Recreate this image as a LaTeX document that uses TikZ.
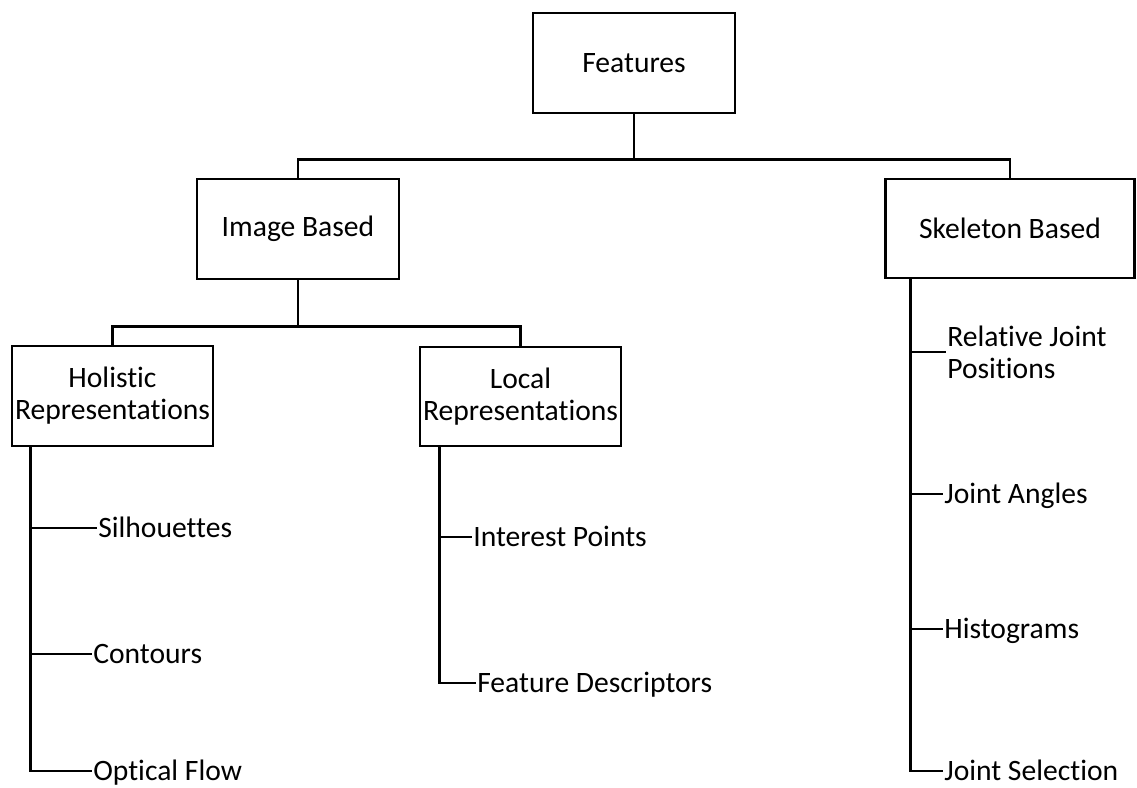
\documentclass[tikz,border=0pt]{standalone}
\usepackage{fontspec}
\setmainfont{Carlito}[Ligatures=CommonOff]
\begin{document}
\begin{tikzpicture}[x=1pt,y=-1pt,
  line width=2.6pt, line join=miter,
  box/.style={draw, line width=2.6pt, align=center, inner sep=0pt,
    font=\fontsize{29.6}{32}\selectfont},
  leaf/.style={anchor=west, inner sep=0pt, text height=19.5pt, text depth=0pt,
    font=\fontsize{29.6}{32}\selectfont},
  leaftwo/.style={anchor=west, inner sep=0pt, align=left,
    font=\fontsize{29.6}{32}\selectfont}]
\useasboundingbox (0,0) rectangle (1137,787);

% category boxes
\node[box, minimum width=202pt, minimum height=100pt] (feat) at (634,63) {Features};
\node[box, minimum width=202pt, minimum height=100pt] (img) at (298,229) {Image Based};
\node[box, minimum width=249pt, minimum height=99pt] (skel) at (1010,228.5) {Skeleton Based};
\node[box, minimum width=201pt, minimum height=100pt] (hol) at (112.5,396) {Holistic\\Representations};
\node[box, minimum width=201pt, minimum height=99pt] (loc) at (520.5,396.5) {Local\\Representations};

% tree connectors
\draw (feat.south) -- ++(0,45) coordinate (b1);
\draw (img.north) |- (b1) -| (skel.north);
\draw (img.south) -- ++(0,46) coordinate (b2);
\draw (hol.north) |- (b2) -| (loc.north);

% leaves
\node[leaf] (sil) at (97,528) {Silhouettes};
\node[leaf] (con) at (92,654) {Contours};
\node[leaf] (opt) at (92,771) {Optical Flow};
\node[leaf] (ip) at (472,537) {Interest Points};
\node[leaf] (fd) at (476,683) {Feature Descriptors};
\node[leaftwo] (rjp) at (946,352) {Relative Joint\\Positions};
\node[leaf] (ja) at (943,494) {Joint Angles};
\node[leaf] (hist) at (943,629) {Histograms};
\node[leaf] (js) at (943,771) {Joint Selection};

% trunks and ticks
\coordinate (ht) at ([xshift=20pt]hol.south west);
\draw (ht) |- (opt.west);
\draw (ht |- sil.west) -- (sil.west);
\draw (ht |- con.west) -- (con.west);

\coordinate (lt) at ([xshift=21pt]loc.south west);
\draw (lt) |- (fd.west);
\draw (lt |- ip.west) -- (ip.west);

\coordinate (st) at ([xshift=26pt]skel.south west);
\draw (st) |- (js.west);
\draw (st |- rjp.west) -- (rjp.west);
\draw (st |- ja.west) -- (ja.west);
\draw (st |- hist.west) -- (hist.west);
\end{tikzpicture}
\end{document}
